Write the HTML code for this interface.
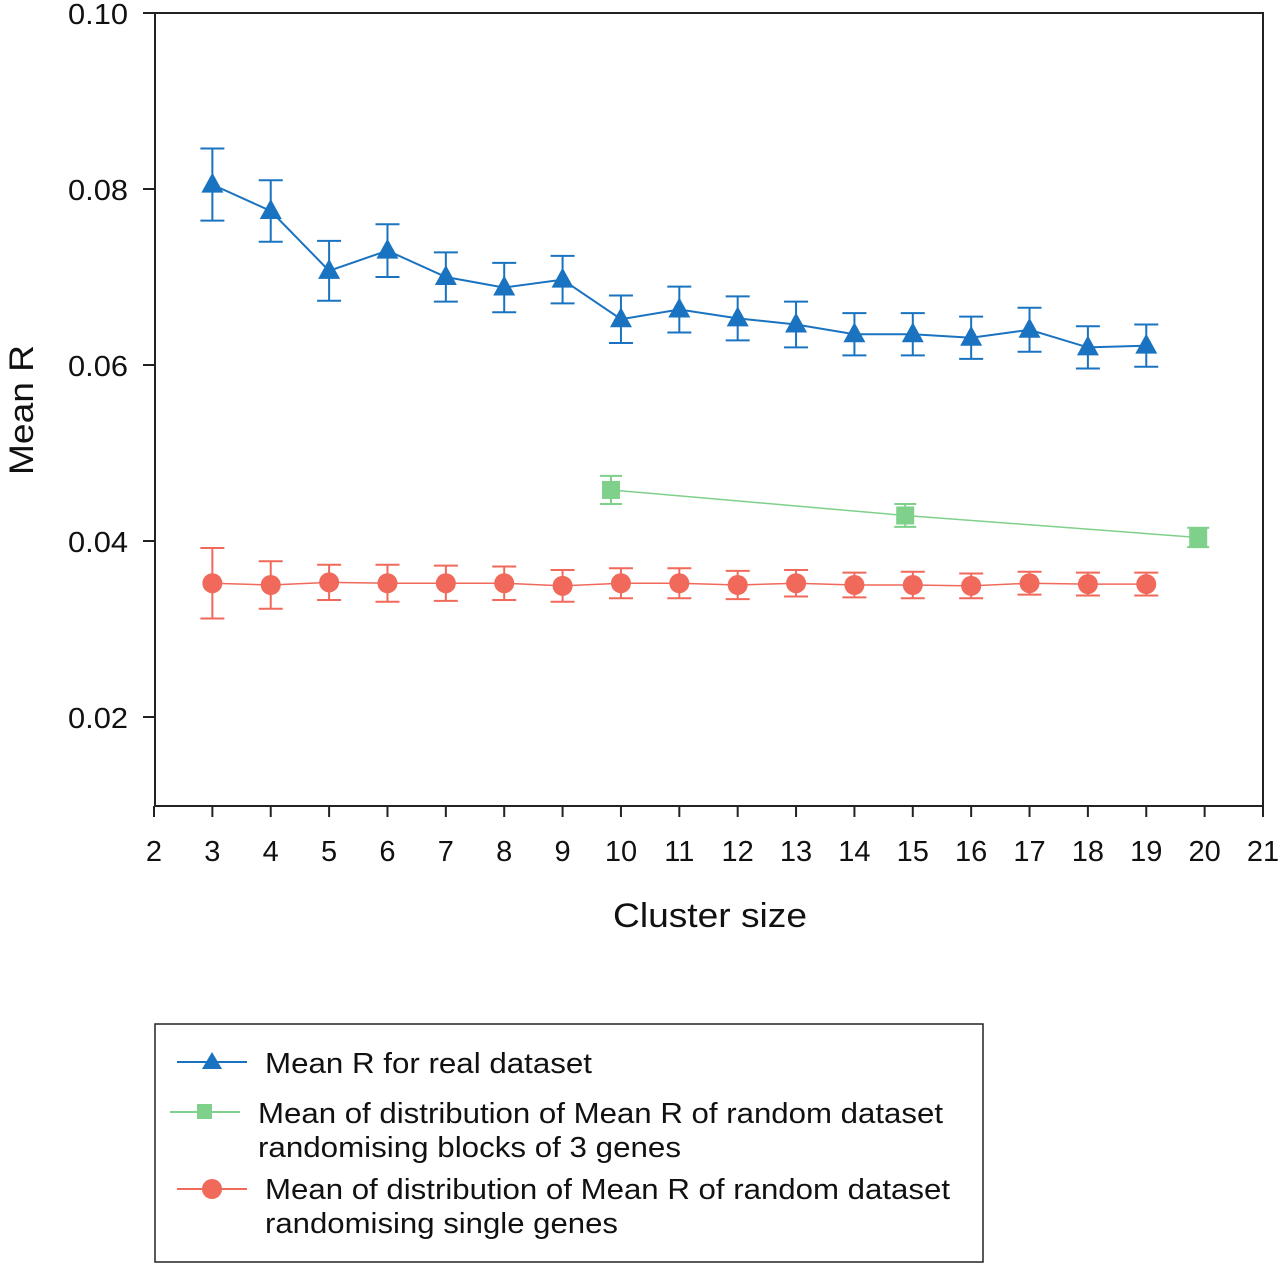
<!DOCTYPE html>
<html><head><meta charset="utf-8"><style>
body{margin:0;background:#fff;}
svg{display:block;font-family:"Liberation Sans",Arial,sans-serif;}
</style></head><body>
<svg id="chart" width="1280" height="1266" viewBox="0 0 1280 1266">
<rect x="155" y="13" width="1108" height="793" fill="none" stroke="#222" stroke-width="2"/>
<g id="axes"></g><g id="series"></g>
<text x="613" y="927" font-size="34" textLength="194" lengthAdjust="spacingAndGlyphs" fill="#111">Cluster size</text>
<text transform="translate(33,475) rotate(-90)" font-size="34" textLength="130" lengthAdjust="spacingAndGlyphs" fill="#111">Mean R</text>
<g>
<rect x="155" y="1024" width="828" height="238" fill="none" stroke="#222" stroke-width="1.5"/>
<g>
<line x1="177" y1="1062" x2="247" y2="1062" stroke="#1a73c0" stroke-width="2"/>
<polygon points="212,1052 202,1069 222,1069" fill="#1a73c0"/>
<text x="265" y="1073" font-size="29" textLength="327" lengthAdjust="spacingAndGlyphs" fill="#111">Mean R for real dataset</text></g>
<g>
<line x1="170" y1="1112" x2="240" y2="1112" stroke="#7fd08a" stroke-width="2"/>
<rect x="197" y="1104" width="15" height="15" fill="#7fd08a"/>
<text x="258" y="1123" font-size="29" textLength="685" lengthAdjust="spacingAndGlyphs" fill="#111">Mean of distribution of Mean R of random dataset</text>
<text x="258" y="1157" font-size="29" textLength="423" lengthAdjust="spacingAndGlyphs" fill="#111">randomising blocks of 3 genes</text></g>
<g>
<line x1="177" y1="1189" x2="247" y2="1189" stroke="#f0695a" stroke-width="2"/>
<circle cx="212" cy="1189" r="10" fill="#f0695a"/>
<text x="265" y="1199" font-size="29" textLength="685" lengthAdjust="spacingAndGlyphs" fill="#111">Mean of distribution of Mean R of random dataset</text>
<text x="265" y="1233" font-size="29" textLength="353" lengthAdjust="spacingAndGlyphs" fill="#111">randomising single genes</text></g>
</g>
</svg>
<script>
const xTicks=[2,3,4,5,6,7,8,9,10,11,12,13,14,15,16,17,18,19,20,21];
const yTicks=[0.02,0.04,0.06,0.08,0.10];
const yTickLabels=["0.02","0.04","0.06","0.08","0.10"];
const realX=[3,4,5,6,7,8,9,10,11,12,13,14,15,16,17,18,19];
const realY=[0.0805,0.0775,0.0707,0.0730,0.0700,0.0688,0.0697,0.0652,0.0663,0.0653,0.0646,0.0635,0.0635,0.0631,0.0640,0.0620,0.0622];
const realErr=[0.0041,0.0035,0.0034,0.0030,0.0028,0.0028,0.0027,0.0027,0.0026,0.0025,0.0026,0.0024,0.0024,0.0024,0.0025,0.0024,0.0024];
const blockX=[9.83,14.87,19.89];
const blockY=[0.0458,0.0429,0.0404];
const blockErr=[0.0016,0.0013,0.0011];
const singleX=[3,4,5,6,7,8,9,10,11,12,13,14,15,16,17,18,19];
const singleY=[0.0352,0.0350,0.0353,0.0352,0.0352,0.0352,0.0349,0.0352,0.0352,0.0350,0.0352,0.0350,0.0350,0.0349,0.0352,0.0351,0.0351];
const singleErr=[0.0040,0.0027,0.0020,0.0021,0.0020,0.0019,0.0018,0.0017,0.0017,0.0016,0.0015,0.0014,0.0015,0.0014,0.0013,0.0013,0.0013];
const NS="http://www.w3.org/2000/svg";
const X=v=>154+(v-2)*(1263-154)/19;
const Y=v=>13+(0.10-v)*8800;
function mk(t,a,p){const e=document.createElementNS(NS,t);for(const k in a)e.setAttribute(k,a[k]);p.appendChild(e);return e;}
const axes=document.getElementById('axes'),ser=document.getElementById('series');
xTicks.forEach(v=>{
 const g=mk('g',{},axes);
 
 
 mk('line',{x1:X(v),x2:X(v),y1:806,y2:817,stroke:'#222','stroke-width':2},g);
 const t=mk('text',{x:X(v),y:861,'font-size':29,'text-anchor':'middle',fill:'#111'},g);t.textContent=v;
});
yTicks.forEach((v,i)=>{
 const g=mk('g',{},axes);
 
 
 mk('line',{x1:143,x2:155,y1:Y(v),y2:Y(v),stroke:'#222','stroke-width':2},g);
 const t=mk('text',{x:128,y:Y(v)+11,'font-size':29,'text-anchor':'end',textLength:60,lengthAdjust:'spacingAndGlyphs',fill:'#111'},g);t.textContent=yTickLabels[i];
});
function series(xs,ys,es,col,shape,name,lw,cap){
 const g=mk('g',{},ser);
 
 
 mk('polyline',{points:xs.map((x,i)=>X(x)+','+Y(ys[i])).join(' '),fill:'none',stroke:col,'stroke-width':lw},g);
 xs.forEach((x,i)=>{
  const cx=X(x),cy=Y(ys[i]),t=Y(ys[i]+es[i]),b=Y(ys[i]-es[i]);
  const eb=mk('path',{d:`M${cx},${t}V${b}M${cx-cap},${t}H${cx+cap}M${cx-cap},${b}H${cx+cap}`,stroke:col,'stroke-width':2,fill:'none'},g);
  
  
  let m;
  if(shape==='tri')m=mk('polygon',{points:`${cx},${cy-12} ${cx-11},${cy+8} ${cx+11},${cy+8}`,fill:col},g);
  else if(shape==='sq')m=mk('rect',{x:cx-9,y:cy-9,width:18,height:18,fill:col},g);
  else m=mk('circle',{cx:cx,cy:cy,r:10,fill:col},g);
  
  
 });
}
series(realX,realY,realErr,'#1a73c0','tri','real-dataset-series',2,12);
series(blockX,blockY,blockErr,'#7fd08a','sq','blocks-random-series',1.5,11);
series(singleX,singleY,singleErr,'#f0695a','circ','single-random-series',1.5,12);
</script>
</body></html>
